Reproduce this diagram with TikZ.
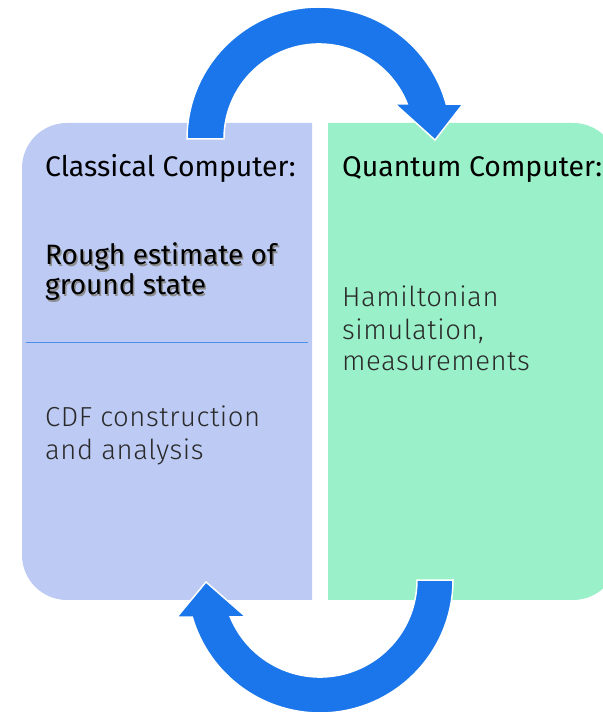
\documentclass[tikz,border=0pt]{standalone}
\usepackage{fontspec}
\setmainfont{Fira Sans}
\newfontfamily\lightfont{Fira Sans Light}[LetterSpace=2]
\definecolor{arrowblue}{HTML}{1A76EA}
\definecolor{classbox}{HTML}{BCCAF4}
\definecolor{quantbox}{HTML}{9AF0C8}
\definecolor{divline}{HTML}{4A90E8}
\definecolor{bodytext}{HTML}{2A2A2A}
\tikzset{
  boxfill/.style={fill=#1, draw=none},
  bigarrow/.style={fill=arrowblue, draw=white, line width=1.5pt, line join=miter},
  headtext/.style={anchor=base west, inner sep=0pt, font=\fontsize{28.4}{31}\selectfont, text=black},
  bodytxt/.style={anchor=base west, inner sep=0pt, font=\lightfont\fontsize{27.5}{32}\selectfont, text=bodytext},
  shadowtxt/.style={anchor=base west, inner sep=0pt, font=\fontsize{28}{31}\selectfont, text=black!45},
}
\begin{document}
\begin{tikzpicture}[x=1pt,y=1pt]
\clip (0,0) rectangle (603,716);
\useasboundingbox (0,0) rectangle (603,716);
% boxes
\path[boxfill=classbox] (312,116) -- (67,116) arc[start angle=270,end angle=180,radius=45] -- (22,548) arc[start angle=180,end angle=90,radius=45] -- (312,593) -- cycle;
\path[boxfill=quantbox] (328,116) -- (573,116) arc[start angle=270,end angle=360,radius=45] -- (618,548) arc[start angle=0,end angle=90,radius=45] -- (328,593) -- cycle;
\coordinate (dl) at (26,374);
\coordinate (dr) at (308,374);
\draw[divline, line width=0.9pt] (dl) -- (dr);
% top arrow, centre (319,577)
\path[bigarrow] (187,577) arc[start angle=180,end angle=15.3,radius=132]
  -- (463,612) -- (435,576) -- (395,612) -- (319+88.3,612)
  arc[start angle=21.6,end angle=180,radius=95] -- cycle;
% bottom arrow, centre (320,136)
\path[bigarrow] (453,136) arc[start angle=0,end angle=-163.8,radius=133]
  -- (177,99) -- (206,134) -- (246,99) -- (320-89.7,99)
  arc[start angle=-157.6,end angle=0,radius=97] -- cycle;
% texts
\node[headtext] (ch) at (45,539) {Classical Computer:};
\node[headtext] (qh) at (342,539) {Quantum Computer:};
\node[shadowtxt] at (46.5,449.5) {Rough estimate of};
\node[shadowtxt] at (46.5,419.5) {ground state};
\node[headtext, font=\fontsize{28}{31}\selectfont] (r1) at (45,451) {Rough estimate of};
\node[headtext, font=\fontsize{28}{31}\selectfont] (r2) at (45,421) {ground state};
\node[bodytxt] (h1) at (342,409) {Hamiltonian};
\node[bodytxt] (h2) at (342,376) {simulation,};
\node[bodytxt] (h3) at (342,345) {measurements};
\node[bodytxt] (c1) at (45,289) {CDF construction};
\node[bodytxt] (c2) at (45,256) {and analysis};
\end{tikzpicture}
\end{document}
